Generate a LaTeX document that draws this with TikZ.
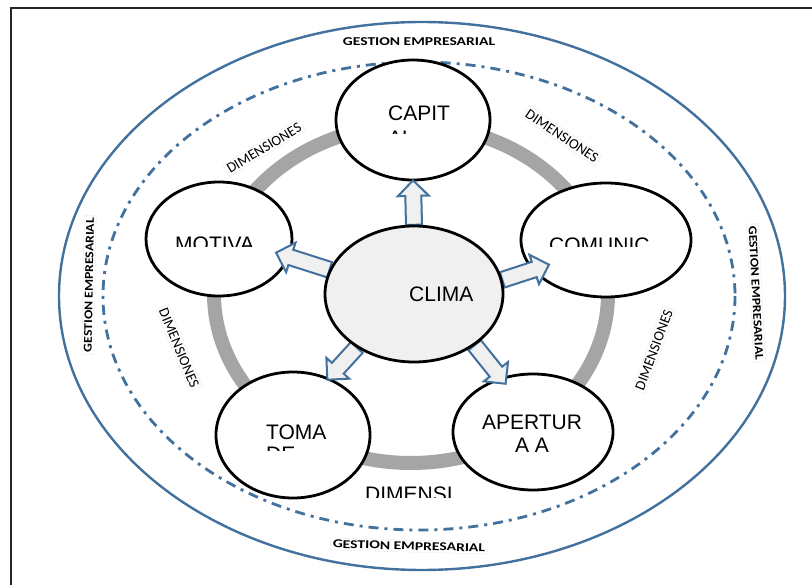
\documentclass[tikz,border=0pt]{standalone}
\usepackage{fontspec}
\setmainfont{Liberation Sans}
\newfontfamily\calibri{Carlito}
\usetikzlibrary{shapes.geometric,shapes.arrows,calc}
\definecolor{azul}{HTML}{41719C}
\definecolor{aro}{HTML}{A5A5A5}
\definecolor{relleno}{HTML}{F0F0F0}

% flecha gruesa de un punto a otro
\newcommand{\flechabloque}[3]{%
  \path let \p1=($(#2)-(#1)$), \n1={veclen(\x1,\y1)}, \n2={atan2(\y1,\x1)} in
    node[flecha, minimum height=\n1, rotate=\n2, anchor=tail] (#3) at (#1) {};}

\begin{document}
\begin{tikzpicture}[x=1pt,y=-1pt,
    burbuja/.style={ellipse,draw=black,line width=2.8pt,fill=white,inner sep=0},
    texto/.style={font=\textosize,inner sep=0},
    flecha/.style={single arrow,draw=azul,line width=2pt,fill=relleno,inner xsep=0,inner ysep=7pt,
      single arrow head extend=7.5pt},
    dimension/.style={font=\calibri\dimsize,draw=black!8,line width=0.4pt,inner sep=2pt},
    gestion/.style={font=\calibri\bfseries\gessize,inner sep=2pt,xscale=1.3}]
    \pgfmathsetmacro{\anchoaro}{14}
    \pgfmathsetmacro{\anchoexterior}{2.4}
    \providecommand{\textosize}{\fontsize{21}{25}\selectfont}
    \providecommand{\dimsize}{\fontsize{14.5}{16}\selectfont}
    \providecommand{\gessize}{\fontsize{12}{14}\selectfont}
    \useasboundingbox (0,0) rectangle (812,585);
    \fill[white] (0,0) rectangle (812,585);
    \draw[line width=1.8pt,black!85] (11,585) -- (11,8) -- (812,8);
    % elipses de gestion
    \draw[azul,line width=\anchoexterior pt] (422,296) ellipse [x radius=363, y radius=274];
    \draw[azul,line width=2.8pt,dash pattern=on 10pt off 6pt on 3pt off 6pt] (419,296) ellipse [x radius=316, y radius=234];
    \draw[aro,line width=\anchoaro pt] (411,294) ellipse [x radius=197, y radius=169];
    \node[gestion] (gesnorte) at (419,42) {GESTION EMPRESARIAL};
    \node[rotate=-1.5,gestion,draw=black!8,line width=0.4pt] (gessur) at (409,546) {GESTION EMPRESARIAL};
    \node[rotate=89,gestion,xscale=0.88,draw=black!8,line width=0.4pt] (gesoeste) at (89,285) {GESTION EMPRESARIAL};
    \node[rotate=-87,gestion,xscale=0.88,draw=black!8,line width=0.4pt] (geseste) at (756,293) {GESTION EMPRESARIAL};
    \node[rotate=31,dimension] (dimno) at (264,148) {DIMENSIONES};
    \node[rotate=-34,dimension] (dimne) at (562,136) {DIMENSIONES};
    \node[rotate=-67.5,dimension] (dimo) at (179,348) {DIMENSIONES};
    \node[rotate=69.5,dimension] (dime) at (654,350) {DIMENSIONES};
    \begin{scope}
        \clip (340,470) rectangle (470,497);
        \node[texto,anchor=base west] (dimsur) at (365,501) {DIMENSI};
    \end{scope}
    % dimensiones
    \node[burbuja,minimum width=154,minimum height=120] (capital) at (413,120) {};
    \node[burbuja,minimum width=146,minimum height=114] (motiva) at (219,239) {};
    \node[burbuja,minimum width=170,minimum height=114] (comunic) at (606,240) {};
    \node[burbuja,minimum width=154,minimum height=126] (toma) at (293,435) {};
    \node[burbuja,minimum width=160,minimum height=116] (apertura) at (533,432) {};
    \begin{scope}
        \clip (340,70) rectangle (490,134);
        \node[texto,anchor=base west] (capitaltxt) at (388,121) {CAPIT};
        \node[texto,anchor=base west] (capitaltxtb) at (388,146) {AL};
    \end{scope}
    \begin{scope}
        \clip (150,200) rectangle (290,247);
        \node[texto,anchor=base west] (motivatxt) at (175,251.5) {MOTIVA};
    \end{scope}
    \begin{scope}
        \clip (525,200) rectangle (690,247);
        \node[texto,anchor=base west] (comunictxt) at (549,252.5) {COMUNIC};
    \end{scope}
    \begin{scope}
        \clip (225,400) rectangle (365,450.5);
        \node[texto,anchor=base west] (tomatxt) at (266,440) {TOMA};
        \node[texto,anchor=base west] (tomatxtb) at (266,462) {DE};
    \end{scope}
    \node[texto,anchor=base] (aperturatxt) at (532,430) {APERTUR};
    \node[texto,anchor=base] (aperturatxtb) at (532,453) {A A};
    % flechas desde el clima
    \coordinate (pmotiva) at ($(motiva.center)+(58,14)$);
    \coordinate (pcomunic) at ($(comunic.center)+(-58,25)$);
    \coordinate (ptoma) at ($(toma.center)+(35,-56)$);
    \coordinate (papertura) at ($(apertura.center)+(-28,-49)$);
    \node[ellipse,minimum width=178,minimum height=136,inner sep=0] (clima) at (414,294) {};
    \flechabloque{clima.north}{capital.south}{fcapital}
    \flechabloque{clima.164}{pmotiva}{fmotiva}
    \flechabloque{clima.9}{pcomunic}{fcomunic}
    \flechabloque{clima.-137}{ptoma}{ftoma}
    \flechabloque{clima.-40}{papertura}{fapertura}
    \node[burbuja,fill=relleno,minimum width=178,minimum height=136] (climab) at (clima) {};
    \node[texto,anchor=base west] (climatxt) at (409,302) {CLIMA};
\end{tikzpicture}
\end{document}
